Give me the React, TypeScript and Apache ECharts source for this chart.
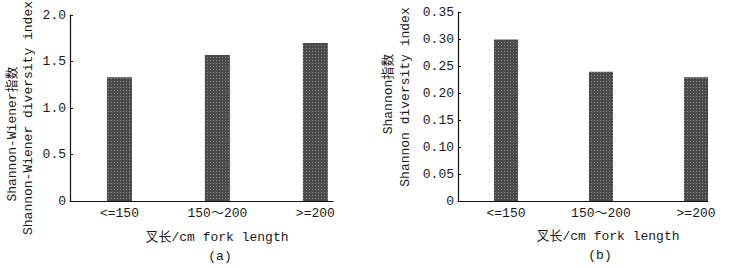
import React, { useEffect, useRef } from "react";
import * as echarts from "echarts";

const categories = ["<=150", "150～200", ">=200"];
const valuesA = [1.33, 1.57, 1.7];
const valuesB = [0.3, 0.24, 0.23];
const ticksA = [0, 0.5, 1.0, 1.5, 2.0];
const ticksB = [0, 0.05, 0.1, 0.15, 0.2, 0.25, 0.3, 0.35];
const yNameA = ["Shannon-Wiener指数", "Shannon-Wiener diversity index"];
const yNameB = ["Shannon指数", "Shannon diversity index"];
const xName = "叉长/cm fork length";
const panelTitles = ["(a)", "(b)"];

const FONT = "'Liberation Mono', 'Noto Sans CJK SC', monospace";
const TXT = "#1a1a1a";

export default function App() {
  const ref = useRef<HTMLDivElement>(null);
  useEffect(() => {
    if (!ref.current) return;
    const chart = echarts.init(ref.current, null, { renderer: "svg" });
    const decal = {
      symbol: "rect",
      symbolSize: 1,
      dashArrayX: [1, 2],
      dashArrayY: [1, 2],
      color: "rgba(255,255,255,0.35)",
      rotation: 0,
    };
    const xAxisCommon = (max: number) => ({
      type: "value",
      min: -0.505,
      max,
      axisLine: { show: true, onZero: false, lineStyle: { color: "#111", width: 1.2 } },
      axisTick: { show: false },
      splitLine: { show: false },
      axisLabel: {
        customValues: [0, 1, 2],
        formatter: (v: number) => categories[Math.round(v)] ?? "",
        fontFamily: FONT,
        fontSize: 13,
        color: TXT,
        margin: 6,
        showMinLabel: true,
        showMaxLabel: true,
      },
    });
    const yAxisCommon = (max: number, interval: number, digits: number) => ({
      type: "value",
      min: 0,
      max,
      interval,
      axisLine: { show: true, onZero: false, lineStyle: { color: "#111", width: 1.2 } },
      axisTick: { show: true, inside: true, length: 3, lineStyle: { color: "#111" } },
      splitLine: { show: false },
      axisLabel: {
        formatter: (v: number) => (v === 0 ? "0" : v.toFixed(digits)),
        fontFamily: FONT,
        fontSize: 13,
        color: TXT,
        margin: 4,
      },
    });
    const rotText = (x: number, y: number, text: string) => ({
      type: "text",
      x,
      y,
      rotation: Math.PI / 2,
      style: {
        text,
        fontFamily: FONT,
        fontSize: 13,
        fill: TXT,
        textAlign: "center",
        textVerticalAlign: "middle",
      },
    });
    const hText = (x: number, y: number, text: string) => ({
      type: "text",
      x,
      y,
      style: {
        text,
        fontFamily: FONT,
        fontSize: 13,
        fill: TXT,
        textAlign: "center",
        textVerticalAlign: "middle",
      },
    });
    chart.setOption({
      animation: false,
      backgroundColor: "#fff",
      grid: [
        { left: 70, top: 15, width: 263, height: 186 },
        { left: 458, top: 12.5, width: 250, height: 188.5 },
      ],
      xAxis: [
        { ...xAxisCommon(2.18), gridIndex: 0 },
        { ...xAxisCommon(2.126), gridIndex: 1 },
      ],
      yAxis: [
        { ...yAxisCommon(ticksA[ticksA.length - 1], 0.5, 1), gridIndex: 0 },
        { ...yAxisCommon(ticksB[ticksB.length - 1], 0.05, 2), gridIndex: 1 },
      ],
      series: [
        {
          type: "bar",
          xAxisIndex: 0,
          yAxisIndex: 0,
          barWidth: 25,
          data: valuesA.map((v, i) => [i, v]),
          itemStyle: { color: "#4a4a4a", decal },
        },
        {
          type: "bar",
          xAxisIndex: 1,
          yAxisIndex: 1,
          barWidth: 24,
          data: valuesB.map((v, i) => [i, v]),
          itemStyle: { color: "#4a4a4a", decal },
        },
      ],
      graphic: [
        rotText(12, 134, yNameA[0]),
        rotText(28, 118, yNameA[1]),
        rotText(388, 94, yNameB[0]),
        rotText(405, 97, yNameB[1]),
        hText(217, 237, xName),
        hText(608, 236, xName),
        hText(220, 256, panelTitles[0]),
        hText(600, 255, panelTitles[1]),
      ],
    });
    return () => chart.dispose();
  }, []);
  return <div ref={ref} style={{ width: 730, height: 268, position: "absolute", left: 0, top: 0 }} />;
}
